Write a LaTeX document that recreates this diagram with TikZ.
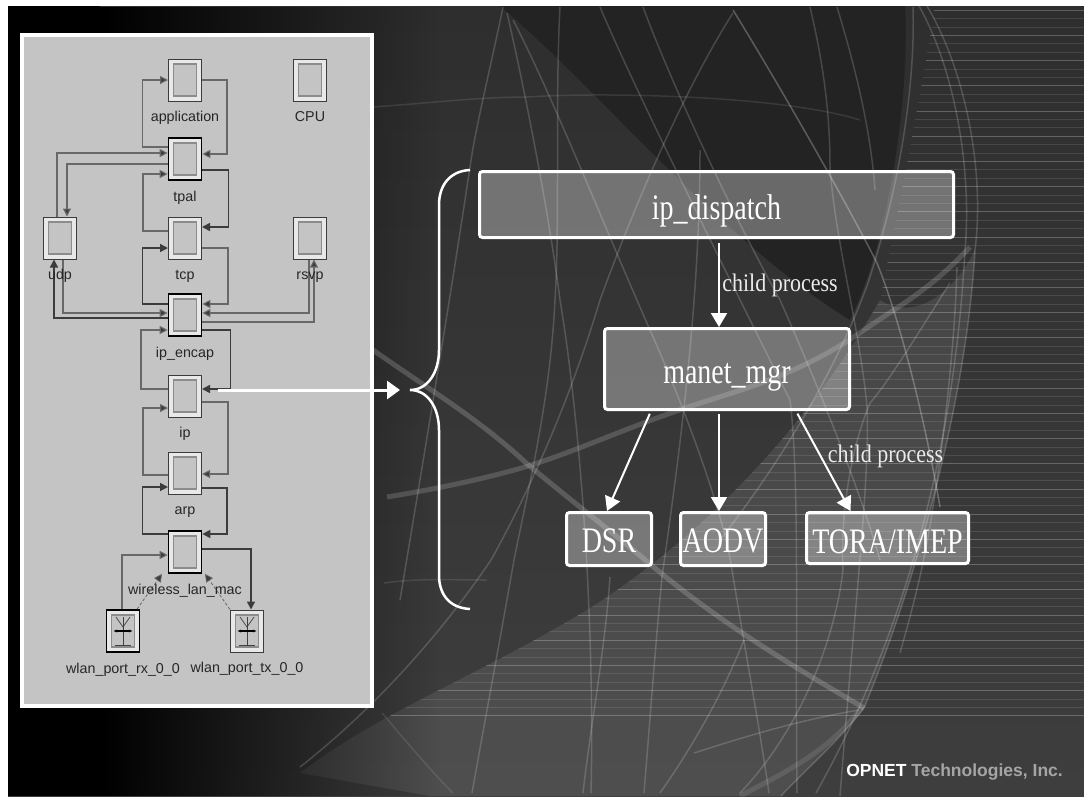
\documentclass[tikz,border=0pt]{standalone}
\usepackage{fontspec}
\usepackage{graphicx}
\setmainfont{Liberation Serif}
\setsansfont{Liberation Sans}
\usetikzlibrary{arrows.meta,positioning,fadings}
\definecolor{bgtop}{RGB}{46,46,46}
\definecolor{bgbottom}{RGB}{62,62,62}
\definecolor{bgpatch}{RGB}{35,35,35}
\definecolor{swooshtop}{RGB}{70,70,70}
\definecolor{swooshbottom}{RGB}{78,78,78}
\definecolor{panelgray}{RGB}{196,196,196}
\definecolor{linkgray}{RGB}{104,104,104}
\definecolor{linkdark}{RGB}{60,60,60}
\definecolor{bevelgray}{RGB}{140,140,140}
\definecolor{ringgray}{RGB}{232,232,232}
\definecolor{opnetgray}{RGB}{165,165,165}
\newcommand{\tall}[2][13pt]{\raisebox{-#1}[0pt][0pt]{\scalebox{1}[1.28]{#2}}}
\newcommand{\swooshedge}{(300,773) .. controls (380,712) and (470,680) .. (587,610) .. controls (690,545) and (800,440) .. (880,300)}
\tikzset{
  modbox/.style={draw=linkdark,line width=1pt,fill=ringgray,minimum width=33pt,minimum height=42pt,inner sep=0pt,
    path picture={\draw[bevelgray,line width=1.4pt,fill=panelgray]
      ([shift={(5pt,-5pt)}]path picture bounding box.north west) rectangle ([shift={(-5pt,5pt)}]path picture bounding box.south east);}},
  modbold/.style={modbox,draw=black,line width=1.7pt},
  modlabel/.style={font=\sffamily\fontsize{14.3}{14}\selectfont,text=black!85,inner sep=0pt,text height=10pt,text depth=3pt},
  link/.style={linkgray,line width=1.1pt,-{Triangle[length=8pt,width=8pt,fill=linkdark]}},
  linkbold/.style={linkdark,line width=1.5pt,-{Triangle[length=8pt,width=8pt,fill=linkdark]}},
  procnode/.style={draw=white,line width=3pt,rounded corners=3pt,fill=white,fill opacity=.32,draw opacity=1,text opacity=1,text=white,inner sep=0pt,font=\fontsize{28}{30}\selectfont},
  proclabel/.style={text=white!92!black,inner sep=0pt,font=\fontsize{22}{24}\selectfont},
  procarrow/.style={white,line width=2pt,-{Triangle[length=14pt,width=16pt]}},
  globeline/.style={white,line width=1.5pt,opacity=.17},
  globeband/.style={white,line width=5pt,opacity=.13}
}
\begin{document}
\begin{tikzpicture}[x=1pt,y=-1pt]
\useasboundingbox (0,0) rectangle (1084,796);
% Backdrop
\fill[white] (0,0) rectangle (1084,796);
\shade[top color=bgtop,bottom color=bgbottom] (8,6) rectangle (1084,796);
\fill[bgpatch] (500,6) .. controls (600,90) and (720,240) .. (850,320) .. controls (890,240) and (910,90) .. (905,6) -- cycle;
\shade[top color=swooshtop,bottom color=swooshbottom] \swooshedge .. controls (910,320) and (950,300) .. (975,250) .. controls (968,380) and (925,560) .. (864,708) .. controls (835,745) and (800,775) .. (781,796) -- (430,796) -- cycle;
\fill[black] (8,6) rectangle (100,796);
\fill[black,path fading=east] (100,6) rectangle (440,796);
% Stripes at the right
\begin{scope}
\clip \swooshedge .. controls (900,200) and (920,100) .. (935,6) -- (1084,6) -- (1084,796) -- (300,796) -- cycle;
\foreach \k in {0,...,84} {
  \pgfmathsetmacro{\y}{10+8.4*\k}
  \pgfmathsetmacro{\op}{ifthenelse(mod(\k,3)==0,.24,.11)}
  \draw[white,opacity=\op] (300,\y) -- (1084,\y);
}
\end{scope}
% Globe lines
\draw[globeline] (927,6) .. controls (965,70) and (985,170) .. (975,250) .. controls (968,380) and (925,560) .. (864,708) .. controls (835,745) and (800,775) .. (781,796);
\draw[globeline] (919,6) .. controls (955,70) and (972,170) .. (965,250) .. controls (958,380) and (930,590) .. (816,793);
\draw[globeline] (957,267) .. controls (955,340) and (945,430) .. (933,507) .. controls (925,560) and (915,600) .. (900,653);
\draw[globeline] (913,7) .. controls (915,70) and (905,170) .. (868,283) .. controls (840,360) and (790,450) .. (720,540);
\draw[globeline] (733,13) .. controls (690,80) and (640,190) .. (600,300) .. controls (570,400) and (530,490) .. (491,560) .. controls (430,650) and (360,720) .. (300,767);
\draw[globeline] (507,13) .. controls (525,90) and (550,220) .. (560,300) .. controls (580,420) and (595,620) .. (591,793);
\draw[globeline] (513,20) .. controls (550,90) and (610,240) .. (650,330) .. controls (690,420) and (725,520) .. (732,570) .. controls (745,650) and (760,730) .. (769,793);
\draw[globeline] (560,7) .. controls (555,100) and (560,220) .. (555,300) .. controls (550,400) and (530,480) .. (514,560) .. controls (500,640) and (485,720) .. (472,793);
\draw[globeline] (600,7) .. controls (635,90) and (720,260) .. (790,400) .. controls (800,480) and (795,640) .. (797,793);
\draw[globeline] (643,7) .. controls (670,80) and (730,210) .. (780,300) .. controls (820,390) and (860,490) .. (880,560);
\draw[globeline,opacity=.26] (733,10) .. controls (770,70) and (840,190) .. (877,263) .. controls (900,320) and (925,420) .. (940,507);
\draw[globeline] (810,7) .. controls (825,70) and (830,120) .. (830,167) .. controls (835,240) and (860,330) .. (867,407) .. controls (870,480) and (855,600) .. (840,796);
\draw[globeline] (837,7) .. controls (850,50) and (870,120) .. (875,190);
\draw[globeline] (503,7) .. controls (490,70) and (475,130) .. (470,167) .. controls (450,300) and (425,450) .. (400,600);
\draw[globeline] (700,150) .. controls (700,300) and (680,450) .. (662,577) .. controls (655,650) and (650,720) .. (644,793);
\draw[globeline] (950,283) .. controls (920,330) and (890,380) .. (870,403) .. controls (850,450) and (840,520) .. (843,570) .. controls (835,640) and (800,730) .. (740,793);
\draw[globeline] (744,640) .. controls (720,700) and (690,750) .. (660,793);
\draw[globeline] (610,577) .. controls (605,650) and (590,730) .. (583,793);
\draw[globeline,opacity=.1] (373,107) .. controls (430,103) and (480,97) .. (527,97) .. controls (600,92) and (780,95) .. (860,120);
\draw[globeline,opacity=.1] (384,583) .. controls (420,578) and (450,580) .. (487,580);
\draw[globeline,opacity=.1] (382,713) .. controls (405,740) and (430,770) .. (453,793);
\draw[globeline] (859,710) .. controls (800,720) and (750,735) .. (694,753);
\draw[globeband,opacity=.16] (970,247) .. controls (930,290) and (900,305) .. (864,330) .. controls (800,375) and (740,390) .. (691,406) .. controls (620,430) and (580,450) .. (525,467) .. controls (480,480) and (430,490) .. (387,497);
\draw[globeband,opacity=.18] (373,350) .. controls (430,390) and (480,420) .. (525,462) .. controls (570,500) and (610,530) .. (656,569) .. controls (730,630) and (800,670) .. (864,708);
\draw[globeband,opacity=.1] (862,707) .. controls (830,750) and (790,770) .. (740,796);
% Left: node model panel
\draw[white,line width=3.5pt,fill=panelgray] (22,35) rectangle (372,706);
\node[modbox] (app) at (185,80) {};
\node[modbox] (cpu) at (310,80) {};
\node[modbold] (tpal) at (185,159) {};
\node[modbox] (udp) at (60,238) {};
\node[modbox] (tcp) at (185,238) {};
\node[modbox] (rsvp) at (310,238) {};
\node[modbold] (encap) at (185,315) {};
\node[modbox] (ip) at (185,396) {};
\node[modbox] (arp) at (185,473) {};
\node[modbold] (mac) at (185,552) {};
\node[modbold] (rx) at (123,631) {};
\node[modbox] (tx) at (247,631) {};
% Antenna marks of the two ports
\foreach \port in {rx,tx} {
  \draw[black!75,line width=.7pt] ([yshift=14pt]\port.center) -- ([yshift=-14pt]\port.center);
  \draw[black!75,line width=.7pt] ([shift={(-8pt,-14pt)}]\port.center) -- ([shift={(8pt,-14pt)}]\port.center);
  \draw[black!75,line width=.7pt] ([shift={(-7pt,14pt)}]\port.center) -- ([yshift=4pt]\port.center) -- ([shift={(7pt,14pt)}]\port.center);
  \draw[black,line width=1.5pt,{Latex[length=4pt]}-{Latex[length=4pt]}] ([xshift=-10pt]\port.center) -- ([xshift=10pt]\port.center);
}
% Links inside the panel
\draw[link] ([yshift=12pt]tpal.west) -- ++(-25,0) |- (app.west);
\draw[link] (app.east) -- ++(25,0) |- ([yshift=5pt]tpal.east);
\draw[linkbold] ([yshift=-11pt]tpal.east) -- ++(26,0) |- ([yshift=11pt]tcp.east);
\draw[link] ([yshift=7pt]tcp.west) -- ++(-25,0) |- ([yshift=-15pt]tpal.west);
\draw[link] ([xshift=-3pt]udp.north) |- ([yshift=6pt]tpal.west);
\draw[link] ([yshift=-5pt]tpal.west) -| ([xshift=7pt]udp.north);
\draw[link] ([yshift=-10pt]tcp.east) -- ++(26,0) |- ([yshift=11pt]encap.east);
\draw[linkbold] ([yshift=11pt]encap.west) -- ++(-25,0) |- ([yshift=-10pt]tcp.west);
\draw[link] ([xshift=3pt]udp.south) |- ([yshift=2pt]encap.west);
\draw[linkbold] ([yshift=-3pt]encap.west) -| ([xshift=-6pt]udp.south);
\draw[link] ([xshift=-1pt]rsvp.south) |- ([yshift=2pt]encap.east);
\draw[link] ([yshift=-7pt]encap.east) -| ([xshift=4pt]rsvp.south);
\draw[link] ([yshift=7pt]ip.west) -- ++(-27,0) |- ([yshift=-15pt]encap.west);
\draw[linkbold] ([yshift=-15pt]encap.east) -- ++(28,0) |- ([yshift=7pt]ip.east);
\draw[link] ([yshift=-6pt]ip.east) -- ++(26,0) |- ([yshift=-1pt]arp.east);
\draw[link] ([yshift=-2pt]arp.west) -- ++(-25,0) |- ([yshift=-12pt]ip.west);
\draw[linkbold] ([yshift=-15pt]arp.east) -- ++(25,0) |- ([yshift=18pt]mac.east);
\draw[linkbold] ([yshift=18pt]mac.west) -- ++(-25,0) |- ([yshift=-14pt]arp.west);
\draw[link] ([xshift=-1pt]rx.north) |- ([yshift=-3pt]mac.west);
\draw[linkbold] ([yshift=3pt]mac.east) -| ([xshift=4pt]tx.north);
\draw[link,densely dashed,line width=.8pt] ([xshift=14pt]rx.north) -- ([xshift=-23pt]mac.south);
\draw[link,densely dashed,line width=.8pt] ([xshift=-17pt]tx.north) -- ([xshift=20pt]mac.south);
% Labels of the panel
\node[modlabel,below=10pt of app] (applabel) {application};
\node[modlabel,below=10pt of cpu] (cpulabel) {CPU};
\node[modlabel,below=10pt of tpal] (tpallabel) {tpal};
\node[modlabel,below=10pt of udp] (udplabel) {udp};
\node[modlabel,below=10pt of tcp] (tcplabel) {tcp};
\node[modlabel,below=10pt of rsvp] (rsvplabel) {rsvp};
\node[modlabel,below=10pt of encap] (encaplabel) {ip\_encap};
\node[modlabel,below=10pt of ip] (iplabel) {ip};
\node[modlabel,below=10pt of arp] (arplabel) {arp};
\node[modlabel,below=10pt of mac] (maclabel) {wireless\_lan\_mac};
\node[modlabel,below=10pt of rx] (rxlabel) {wlan\_port\_rx\_0\_0};
\node[modlabel,below=10pt of tx] (txlabel) {wlan\_port\_tx\_0\_0};
% Arrow and brace
\coordinate (bracetip) at (410,390);
\draw[white,line width=3pt,-{Triangle[length=13pt,width=18pt]},shorten >=10pt] ([shift={(16pt,6pt)}]ip.east) -- (bracetip);
\draw[white,line width=2.5pt] (470,170) .. controls (450,171) and (439,185) .. (439,205) -- (439,350) .. controls (439,372) and (428,390) .. (bracetip) .. controls (428,390) and (439,408) .. (439,430) -- (439,575) .. controls (439,595) and (450,608) .. (470,609);
% Right: process hierarchy
\node[procnode,minimum width=474pt,minimum height=66pt] (dispatch) at (716.5,204.5) {\tall[14.5pt]{ip\_dispatch}};
\node[procnode,minimum width=245pt,minimum height=81pt] (manet) at (727,369) {\tall[14pt]{manet\_mgr}};
\node[procnode,minimum width=85pt,minimum height=53pt] (dsr) at (609,539) {\tall{DSR}};
\node[procnode,minimum width=85pt,minimum height=53pt] (aodv) at (723,539) {\tall{AODV}};
\node[procnode,minimum width=162pt,minimum height=51pt] (tora) at (887.5,538) {\tall[15pt]{TORA/IMEP}};
\draw[procarrow,shorten <=4pt] (dispatch.south -| 719,0) -- (manet.north -| 719,0);
\draw[procarrow,shorten <=3pt] ([xshift=-76pt]manet.south) -- ([xshift=-2pt]dsr.north);
\draw[procarrow,shorten <=3pt] (manet.south -| 719,0) -- (aodv.north -| 719,0);
\draw[procarrow,shorten <=3pt] ([xshift=69pt]manet.south) -- ([xshift=-37pt]tora.north);
\node[proclabel] (childupper) at (780,285) {\scalebox{1}[1.15]{child process}};
\node[proclabel] (childlower) at (885.5,456) {\scalebox{1}[1.15]{child process}};
% Company mark
\node[anchor=east,inner sep=0pt,font=\sffamily\bfseries\fontsize{17.5}{20}\selectfont,text=opnetgray] (opnet) at (1063,772) {\textcolor{white}{OPNET} Technologies, Inc.};
\end{tikzpicture}
\end{document}
